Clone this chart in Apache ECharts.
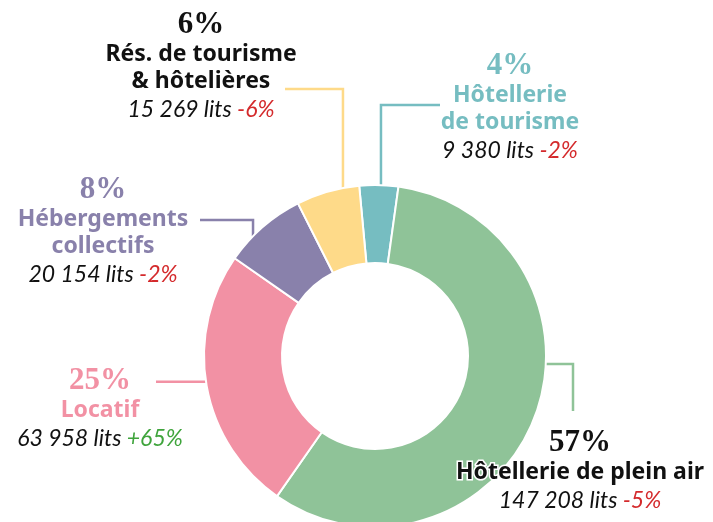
<!DOCTYPE html>
<html>
<head>
<meta charset="utf-8">
<script src="https://cdn.jsdelivr.net/npm/echarts@6/dist/echarts.min.js"></script>
<style>
  html, body { margin: 0; padding: 0; background: #fff; }
  #main { width: 713px; height: 522px; }
</style>
</head>
<body>
<div id="main"></div>
<script>
  // capacité d'accueil (lits) par type d'hébergement
  var categories = ['Hôtellerie\nde tourisme', 'Hôtellerie de plein air', 'Locatif', 'Hébergements\ncollectifs', 'Rés. de tourisme\n& hôtelières'];
  var lits = [9380, 147208, 63958, 20154, 15269];
  var evolutions = ['-2%', '-5%', '+65%', '-2%', '-6%'];

  var sliceColors = ['#76BDC1', '#8FC398', '#F291A4', '#8981AB', '#FEDA89'];
  var titleColors = ['#76BDC1', '#111111', '#F291A4', '#8981AB', '#111111'];

  var cx = 375, cy = 356, rOut = 171, rIn = 93;

  // bloc de texte (centre x, haut y) + trajet du trait depuis le bord de la part
  var callouts = [
    { x: 510, y: 50, angle: 88, legs: [['y', 105], ['x', 440]] },
    { x: 580, y: 427, angle: -2.7, legs: [['x', 573], ['y', 411]] },
    { x: 100, y: 365, angle: 188.7, legs: [['x', 156]] },
    { x: 103, y: 174, angle: 135.5, legs: [['y', 220], ['x', 200]] },
    { x: 201, y: 9, angle: 100.8, legs: [['y', 89], ['x', 285]] }
  ];

  function fmtLits(n) {
    return String(n).replace(/\B(?=(\d{3})+(?!\d))/g, ' ');
  }

  function richFor(i) {
    var base = { align: 'center', textBorderColor: '#fff', textBorderWidth: 3 };
    var chgColor = evolutions[i].charAt(0) === '+' ? '#3FA43C' : '#D42A2C';
    return {
      pct: Object.assign({}, base, { fontFamily: 'Liberation Serif', fontWeight: 'bold', fontSize: 31, lineHeight: 32, color: titleColors[i] }),
      name: Object.assign({}, base, { fontFamily: 'Noto Sans', fontWeight: 'bold', fontSize: 23, lineHeight: 27, color: titleColors[i] }),
      lits: Object.assign({}, base, { fontFamily: 'Lato', fontStyle: 'italic', fontSize: 23, lineHeight: 30, color: '#111111' }),
      chg: Object.assign({}, base, { fontFamily: 'Lato', fontStyle: 'italic', fontSize: 23, lineHeight: 30, color: chgColor })
    };
  }

  var pieData = lits.map(function (v, i) {
    return {
      value: v,
      name: categories[i],
      itemStyle: { color: sliceColors[i] },
      label: { rich: richFor(i) }
    };
  });

  var chart = echarts.init(document.getElementById('main'));
  chart.setOption({
    animation: false,
    series: [{
      type: 'pie',
      center: [cx, cy],
      radius: [rIn, rOut],
      startAngle: 95.3,
      percentPrecision: 0,
      avoidLabelOverlap: false,
      itemStyle: { borderColor: '#fff', borderWidth: 2 },
      label: {
        show: true,
        position: 'outside',
        formatter: function (p) {
          var i = p.dataIndex;
          var nameLines = categories[i].split('\n').map(function (s) {
            return '{name|' + s + '}';
          }).join('\n');
          return '{pct|' + p.percent + '%}\n' + nameLines + '\n{lits|' + fmtLits(lits[i]) + ' lits }{chg|' + evolutions[i] + '}';
        }
      },
      labelLine: { show: true, smooth: false, lineStyle: { width: 2.5 } },
      labelLayout: function (p) {
        var c = callouts[p.dataIndex];
        var a = c.angle * Math.PI / 180;
        var pts = [[cx + rOut * Math.cos(a), cy - rOut * Math.sin(a)]];
        c.legs.forEach(function (leg) {
          var last = pts[pts.length - 1];
          pts.push(leg[0] === 'x' ? [leg[1], last[1]] : [last[0], leg[1]]);
        });
        return { x: c.x, y: c.y, align: 'center', verticalAlign: 'top', labelLinePoints: pts };
      },
      emphasis: { disabled: true },
      data: pieData
    }]
  });
</script>
</body>
</html>
